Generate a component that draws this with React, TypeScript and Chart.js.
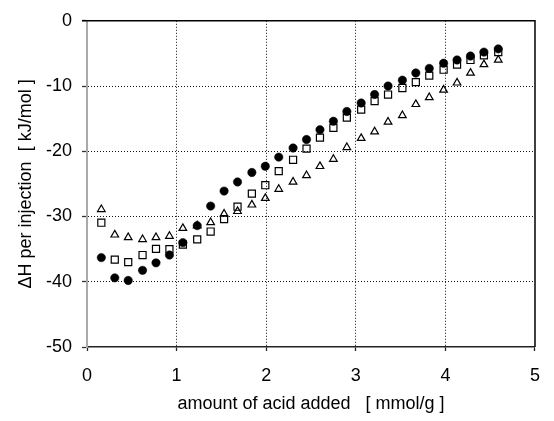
import React, { useEffect, useRef } from "react";
import { Chart, registerables } from "chart.js";

Chart.register(...registerables);

const xValues = [0.16, 0.31, 0.46, 0.62, 0.77, 0.92, 1.07, 1.23, 1.38, 1.53, 1.68, 1.84, 1.99, 2.14, 2.30, 2.45, 2.60, 2.75, 2.90, 3.06, 3.21, 3.36, 3.52, 3.67, 3.82, 3.98, 4.13, 4.28, 4.43, 4.59];
const circleValues = [-36.3, -39.4, -39.8, -38.25, -37.1, -35.9, -34.0, -31.4, -28.4, -26.1, -24.7, -23.25, -22.3, -20.9, -19.5, -18.2, -16.7, -15.4, -13.9, -12.6, -11.3, -10.0, -9.1, -8.0, -7.3, -6.5, -6.0, -5.4, -4.8, -4.3];
const squareValues = [-30.95, -36.6, -37.0, -35.9, -34.95, -35.0, -34.3, -33.5, -32.3, -30.4, -28.5, -26.5, -25.2, -23.05, -21.3, -19.6, -17.9, -16.4, -14.85, -13.6, -12.3, -11.3, -10.3, -9.4, -8.4, -7.5, -6.7, -6.0, -5.3, -4.8];
const triangleValues = [-28.9, -32.8, -33.2, -33.5, -33.2, -33.0, -31.8, -31.4, -30.9, -29.6, -29.2, -28.2, -27.2, -25.8, -24.7, -23.7, -22.3, -21.2, -19.4, -18.0, -17.0, -15.5, -14.5, -12.8, -11.75, -10.6, -9.5, -8.0, -6.7, -6.0];

const xTitle = "amount of acid added   [ mmol/g ]";
const yTitle = "\u0394H per injection  [ kJ/mol ]";

const toPoints = (ys: number[]) => ys.map((y, i) => ({ x: xValues[i], y }));

const FONT = { family: "'Liberation Sans', Arial, Helvetica, sans-serif", size: 18 };

const framePlugin = {
  id: "plotFrame",
  afterDraw(chart: any) {
    const { ctx, chartArea } = chart;
    ctx.save();
    ctx.setLineDash([]);
    ctx.strokeStyle = "#000";
    ctx.lineWidth = 1.5;
    ctx.beginPath();
    ctx.moveTo(chartArea.left - 5, chartArea.top);
    ctx.lineTo(chartArea.right, chartArea.top);
    ctx.lineTo(chartArea.right, chartArea.bottom);
    ctx.stroke();
    ctx.restore();
  },
};

export default function App() {
  const ref = useRef<HTMLCanvasElement>(null);
  useEffect(() => {
    if (!ref.current) return;
    const chart = new Chart(ref.current, {
      type: "scatter",
      data: {
        datasets: [
          {
            label: "circles",
            data: toPoints(circleValues),
            pointStyle: "circle",
            pointRadius: 4.2,
            backgroundColor: "#000",
            borderColor: "#000",
            borderWidth: 0.5,
          },
          {
            label: "squares",
            data: toPoints(squareValues),
            pointStyle: "rect",
            pointRadius: 5,
            backgroundColor: "rgba(0,0,0,0)",
            borderColor: "#000",
            borderWidth: 1.2,
          },
          {
            label: "triangles",
            data: toPoints(triangleValues),
            pointStyle: "triangle",
            pointRadius: 4.4,
            backgroundColor: "rgba(0,0,0,0)",
            borderColor: "#000",
            borderWidth: 1.2,
          },
        ],
      },
      options: {
        responsive: false,
        animation: false,
        layout: { padding: { left: 0, right: 7, top: 19, bottom: 0 } },
        plugins: { legend: { display: false }, tooltip: { enabled: false } },
        scales: {
          x: {
            type: "linear",
            min: 0,
            max: 5,
            afterFit: (s: any) => { s.height = 74; },
            ticks: { stepSize: 1, color: "#000", font: FONT, padding: 14, maxRotation: 0 },
            grid: {
              color: (c: any) => (c.tick && (c.tick.value === 0 || c.tick.value === 5) ? "rgba(0,0,0,0)" : "#111"),
              lineWidth: 1,
              tickLength: 4,
              tickColor: "#222",
              tickWidth: 1.3,
            },
            border: { display: true, color: "#222", width: 1.5, dash: [1, 2] },
            title: { display: true, text: xTitle, color: "#000", font: FONT, padding: { top: 0, bottom: 6 } },
          },
          y: {
            type: "linear",
            min: -50,
            max: 0,
            afterFit: (s: any) => { s.width = 87; },
            ticks: { stepSize: 10, color: "#000", font: FONT, padding: 10 },
            grid: {
              color: (c: any) => (c.tick && (c.tick.value === 0 || c.tick.value === -50) ? "rgba(0,0,0,0)" : "#111"),
              lineWidth: 1,
              tickLength: 5,
              tickColor: "#333",
              tickWidth: 1.3,
            },
            border: { display: true, color: "#aaa", width: 2, dash: [1, 2] },
            title: { display: true, text: yTitle, color: "#000", font: FONT, padding: { top: 15, bottom: 0 } },
          },
        },
      },
      plugins: [framePlugin],
    } as any);
    return () => chart.destroy();
  }, []);
  return (
    <div style={{ position: "fixed", left: 0, top: 0, width: 554, height: 421, background: "#fff" }}>
      <canvas ref={ref} width={554} height={421} style={{ width: 554, height: 421, display: "block" }} />
    </div>
  );
}
